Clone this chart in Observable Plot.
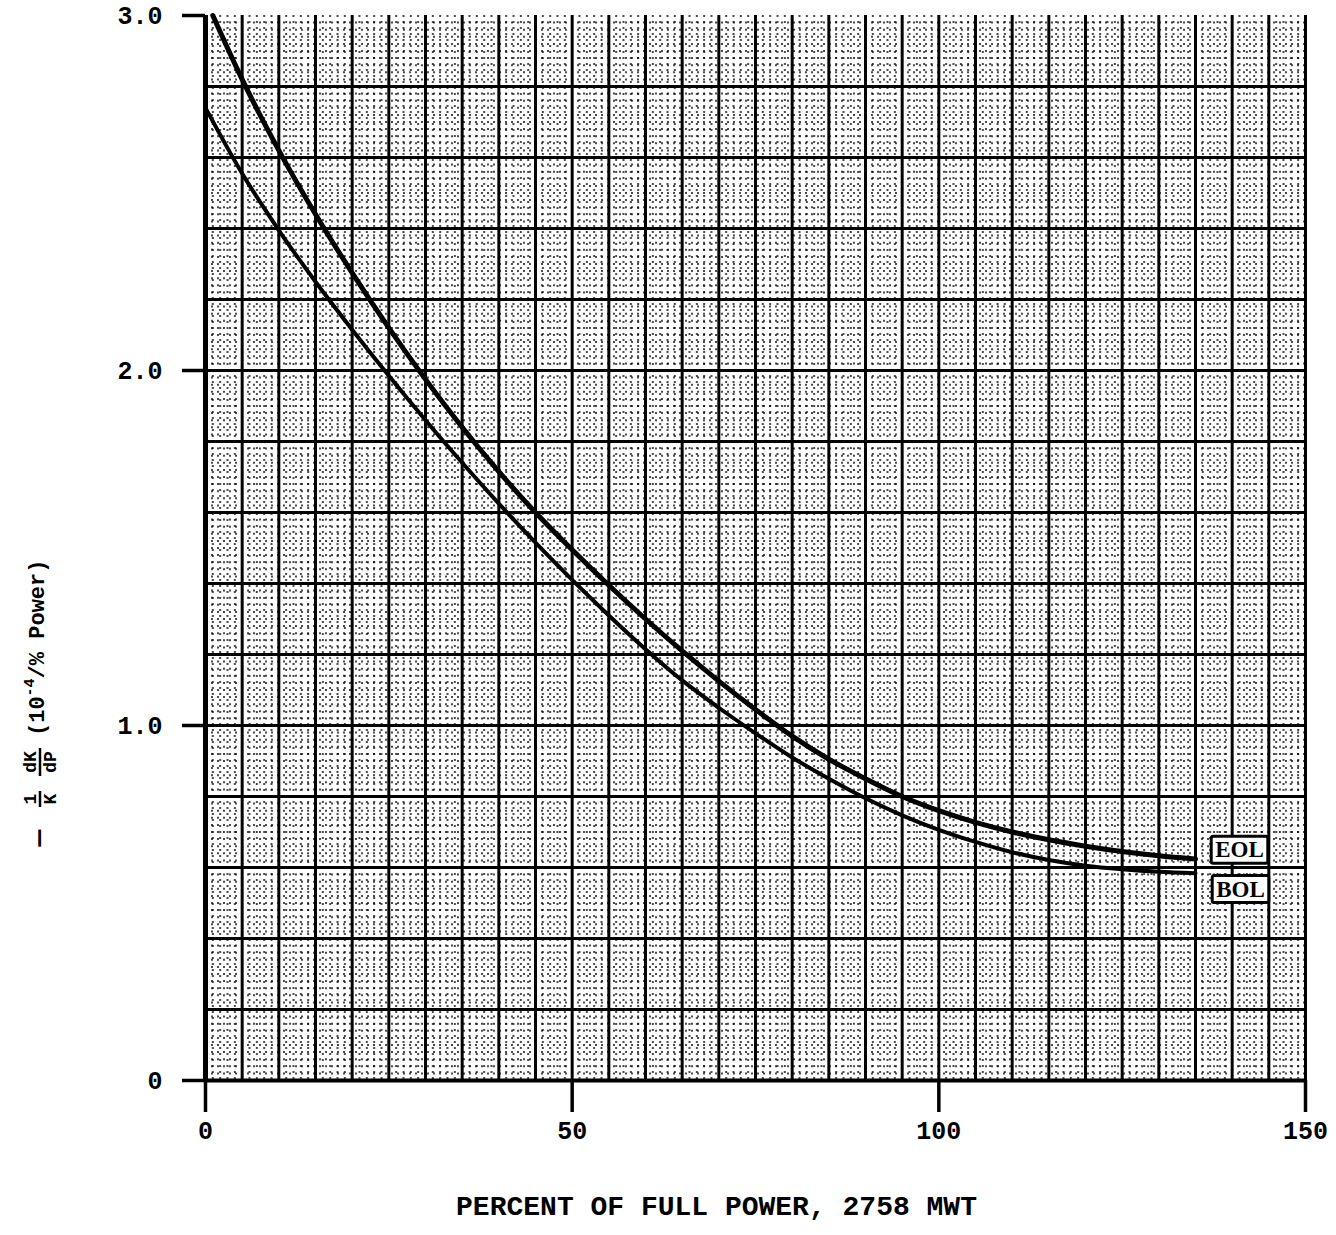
<!DOCTYPE html>
<html>
<head>
<meta charset="utf-8">
<script src="https://cdn.jsdelivr.net/npm/d3@7"></script>
<script src="https://cdn.jsdelivr.net/npm/@observablehq/plot@0.6"></script>
<style>
  html, body { margin: 0; padding: 0; background: #fff; }
  #chart svg { display: block; background: #fff; }
</style>
</head>
<body>
<div id="chart"></div>
<script>
// Power coefficient of reactivity vs. core power, end of life (EOL) and beginning of life (BOL)
const eolPower = [1, 5, 10, 15, 20, 25, 30, 35, 40, 45, 50, 55, 60, 65, 70, 75, 80, 85, 90, 95, 100, 105, 110, 115, 120, 125, 130, 135];
const eolCoef  = [3.0, 2.82, 2.62, 2.44, 2.275, 2.12, 1.975, 1.84, 1.715, 1.60, 1.495, 1.395, 1.30, 1.21, 1.125, 1.045, 0.97, 0.905, 0.85, 0.80, 0.76, 0.727, 0.70, 0.678, 0.66, 0.645, 0.633, 0.624];

const bolPower = [0, 5, 10, 15, 20, 25, 30, 35, 40, 45, 50, 55, 60, 65, 70, 75, 80, 85, 90, 95, 100, 105, 110, 115, 120, 125, 130, 135];
const bolCoef  = [2.74, 2.555, 2.395, 2.25, 2.115, 1.985, 1.86, 1.74, 1.625, 1.515, 1.41, 1.31, 1.215, 1.127, 1.05, 0.978, 0.91, 0.85, 0.795, 0.747, 0.706, 0.672, 0.643, 0.621, 0.605, 0.595, 0.588, 0.584];

const seriesNames = ["EOL", "BOL"];
const xTicks = [0, 50, 100, 150];
const yTicks = [0, 1, 2, 3];
const xTitle = "PERCENT OF FULL POWER, 2758 MWT";

const eol = eolPower.map((p, i) => ({power: p, coef: eolCoef[i]}));
const bol = bolPower.map((p, i) => ({power: p, coef: bolCoef[i]}));

const mono = "'Liberation Mono', 'DejaVu Sans Mono', monospace";
const serif = "'Liberation Serif', 'DejaVu Serif', serif";

// graph-paper rulings: heavy every 5 % / 0.2, fine dotted every 1 % / 0.02
const majorX = d3.range(5, 151, 5);
const majorY = d3.range(1, 15).map(k => k * 0.2);
const minorX = d3.range(1, 150, 1).filter(v => v % 5 !== 0);
const minorY = d3.range(1, 150).map(k => k * 0.02).filter((v, i) => (i + 1) % 10 !== 0);

const plot = Plot.plot({
  width: 1336,
  height: 1235,
  marginLeft: 205,
  marginRight: 31,
  marginTop: 15,
  marginBottom: 155,
  x: {domain: [0, 150]},
  y: {domain: [0, 3]},
  style: {background: "#fff", color: "#000"},
  marks: [
    Plot.ruleX(minorX, {stroke: "#000", strokeWidth: 2, strokeOpacity: 0.7, strokeDasharray: "2,4"}),
    Plot.ruleY(minorY, {stroke: "#000", strokeWidth: 2, strokeOpacity: 0.7, strokeDasharray: "2,4"}),
    Plot.ruleX(majorX, {stroke: "#000", strokeWidth: 3}),
    Plot.ruleY(majorY, {stroke: "#000", strokeWidth: 3}),
    Plot.ruleX([0], {stroke: "#000", strokeWidth: 5}),
    Plot.ruleY([0], {stroke: "#000", strokeWidth: 4}),
    Plot.axisX({
      ticks: xTicks, tickSize: 32, tickPadding: 9, strokeWidth: 3.5, label: null,
      fontSize: 25, fontWeight: "bold", fontFamily: mono
    }),
    Plot.axisY({
      ticks: yTicks, tickSize: 23, tickPadding: 20, strokeWidth: 3.5, label: null,
      tickFormat: d => d === 0 ? "0" : d.toFixed(1),
      fontSize: 25, fontWeight: "bold", fontFamily: mono
    }),
    Plot.line(eol, {x: "power", y: "coef", stroke: "#000", strokeWidth: 5, curve: "monotone-x"}),
    Plot.line(bol, {x: "power", y: "coef", stroke: "#000", strokeWidth: 4, curve: "monotone-x"}),
    Plot.text([seriesNames[0]], {
      x: () => eol[eol.length - 1].power, y: () => eol[eol.length - 1].coef,
      text: d => d, dx: 44, dy: -9, fontSize: 23, fontWeight: 900, fontFamily: serif,
      fill: "#000"
    }),
    Plot.text([seriesNames[1]], {
      x: () => bol[bol.length - 1].power, y: () => bol[bol.length - 1].coef,
      text: d => d, dx: 45, dy: 16, fontSize: 23, fontWeight: 900, fontFamily: serif,
      fill: "#000"
    }),
    Plot.text([xTitle], {
      frameAnchor: "bottom", text: d => d, dx: -39, dy: 134,
      fontSize: 28, fontWeight: "bold", fontFamily: mono, fill: "#000"
    })
  ]
});

document.getElementById("chart").appendChild(plot);
const svg = d3.select(plot);

// boxes around the EOL / BOL tags
svg.selectAll("text").filter(function () {
  return seriesNames.includes(this.textContent);
}).each(function () {
  const b = this.getBBox();
  const m = this.getAttribute("transform");
  const r = document.createElementNS("http://www.w3.org/2000/svg", "rect");
  r.setAttribute("x", b.x - 4);
  r.setAttribute("y", b.y - 1);
  r.setAttribute("width", b.width + 8);
  r.setAttribute("height", b.height + 2);
  r.setAttribute("rx", 2);
  r.setAttribute("fill", "#fff");
  r.setAttribute("stroke", "#000");
  r.setAttribute("stroke-width", 3);
  if (m) r.setAttribute("transform", m);
  this.parentNode.insertBefore(r, this);
});

// rotated y-axis title:  − (1/K)(dK/dP) (10⁻⁴/% Power)
const yl = svg.append("g")
  .attr("transform", "translate(40,698) rotate(-90)")
  .attr("font-family", mono).attr("font-weight", "bold").attr("fill", "#000")
  .attr("text-anchor", "middle");
yl.append("text").attr("x", -140).attr("y", 0)
  .attr("dominant-baseline", "middle").attr("font-size", 28).text("—");
function frac(cx, num, den, w) {
  yl.append("text").attr("x", cx).attr("y", -4).attr("font-size", 18).text(num);
  yl.append("line").attr("x1", cx - w / 2).attr("x2", cx + w / 2).attr("y1", 0).attr("y2", 0)
    .attr("stroke", "#000").attr("stroke-width", 2.5);
  yl.append("text").attr("x", cx).attr("y", 16).attr("font-size", 18).text(den);
}
frac(-101, "1", "K", 16);
frac(-64, "dK", "dP", 28);
const t = yl.append("text").attr("x", -38).attr("y", -2).attr("font-size", 22)
  .attr("text-anchor", "start").attr("dominant-baseline", "middle");
t.append("tspan").text("(10");
t.append("tspan").attr("dy", -8).attr("font-size", 15).text("-4");
t.append("tspan").attr("dy", 8).text("/% Power)");
</script>
</body>
</html>
